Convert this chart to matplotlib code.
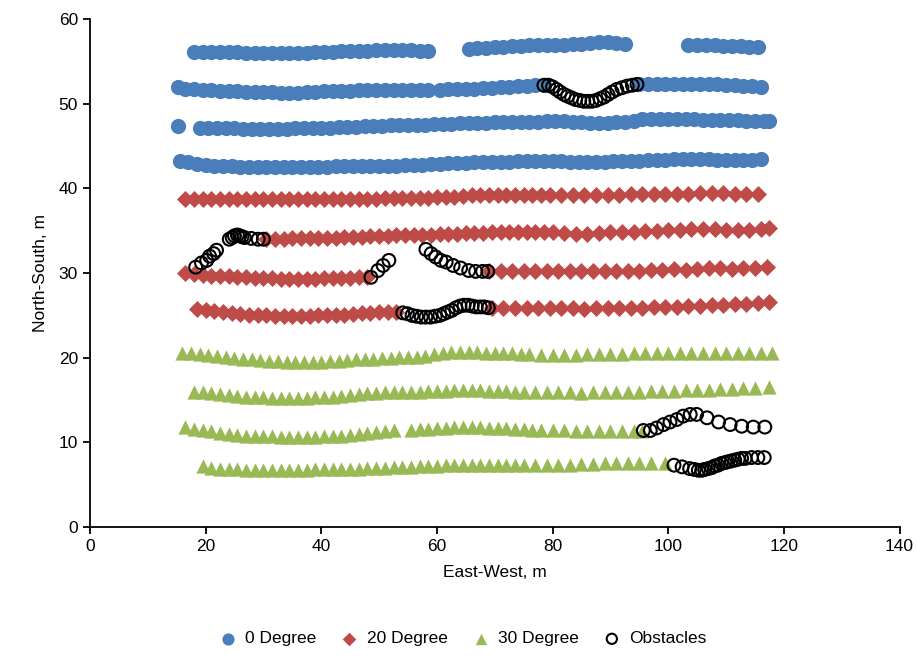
import matplotlib
matplotlib.use("Agg")
import matplotlib.pyplot as plt

plt.rcParams['font.family'] = ['Liberation Sans Narrow', 'Liberation Sans', 'DejaVu Sans']

# ---- 0 Degree rows (blue) ----
b1_x = [18, 19.5, 21, 22.5, 24, 25.5, 27, 28.5, 30, 31.5,
        33, 34.5, 36, 37.5, 39, 40.5, 42, 43.5, 45, 46.5,
        48, 49.5, 51, 52.5, 54, 55.5, 57, 58.5,
        65.5, 67, 68.5, 70, 71.5, 73, 74.5, 76, 77.5, 79,
        80.5, 82, 83.5, 85, 86.5, 88, 89.5, 91, 92.5,
        103.5, 105, 106.5, 108, 109.5, 111, 112.5, 114, 115.5]
b1_y = [56.1, 56.1, 56.1, 56.1, 56.1, 56.1, 56.0, 56.0, 56.0, 56.0,
        56.0, 56.0, 56.0, 56.0, 56.1, 56.1, 56.1, 56.2, 56.2, 56.3,
        56.3, 56.4, 56.4, 56.4, 56.4, 56.4, 56.3, 56.3,
        56.5, 56.6, 56.6, 56.7, 56.7, 56.8, 56.8, 56.9, 56.9, 56.9,
        57.0, 57.0, 57.1, 57.1, 57.2, 57.3, 57.3, 57.2, 57.1,
        56.9, 56.9, 56.9, 56.9, 56.8, 56.8, 56.8, 56.7, 56.7]

b2_x = [15.2, 16.5, 18, 19.5, 21, 22.5, 24, 25.5, 27, 28.5,
        30, 31.5, 33, 34.5, 36, 37.5, 39, 40.5, 42, 43.5,
        45, 46.5, 48, 49.5, 51, 52.5, 54, 55.5, 57, 58.5,
        60.5, 62, 63.5, 65, 66.5, 68, 69.5, 71, 72.5, 74,
        75.5, 77, 78.5,
        95, 96.5, 98, 99.5, 101, 102.5, 104, 105.5, 107, 108.5,
        110, 111.5, 113, 114.5, 116]
b2_y = [52.0, 51.8, 51.7, 51.6, 51.6, 51.5, 51.5, 51.5, 51.4, 51.4,
        51.4, 51.4, 51.3, 51.3, 51.3, 51.4, 51.4, 51.5, 51.5, 51.5,
        51.5, 51.6, 51.6, 51.6, 51.6, 51.6, 51.6, 51.6, 51.6, 51.6,
        51.6, 51.7, 51.7, 51.8, 51.8, 51.9, 51.9, 52.0, 52.0, 52.1,
        52.1, 52.2, 52.2,
        52.4, 52.4, 52.4, 52.4, 52.4, 52.4, 52.3, 52.3, 52.3, 52.3,
        52.2, 52.2, 52.1, 52.1, 52.0]

b3_x = [15.2,
        19, 20.5, 22, 23.5, 25, 26.5, 28, 29.5, 31, 32.5,
        34, 35.5, 37, 38.5, 40, 41.5, 43, 44.5, 46, 47.5,
        49, 50.5, 52, 53.5, 55, 56.5, 58, 59.5, 61, 62.5,
        64, 65.5, 67, 68.5, 70, 71.5, 73, 74.5, 76, 77.5,
        79, 80.5, 82, 83.5, 85, 86.5, 88, 89.5, 91, 92.5,
        94,
        95.5, 97, 98.5, 100, 101.5, 103, 104.5, 106, 107.5, 109,
        110.5, 112, 113.5, 115, 116.5, 117.5]
b3_y = [47.4,
        47.2, 47.2, 47.1, 47.1, 47.1, 47.0, 47.0, 47.0, 47.0, 47.0,
        47.0, 47.1, 47.1, 47.1, 47.2, 47.2, 47.3, 47.3, 47.3, 47.4,
        47.4, 47.4, 47.5, 47.5, 47.5, 47.5, 47.5, 47.6, 47.6, 47.6,
        47.7, 47.7, 47.7, 47.7, 47.8, 47.8, 47.8, 47.9, 47.9, 47.9,
        48.0, 48.0, 48.0, 47.9, 47.8, 47.7, 47.7, 47.7, 47.8, 47.9,
        48.0,
        48.2, 48.2, 48.2, 48.2, 48.2, 48.2, 48.2, 48.1, 48.1, 48.1,
        48.1, 48.1, 48.0, 48.0, 48.0, 48.0]

b4_x = [15.5, 17, 18.5, 20, 21.5, 23, 24.5, 26, 27.5, 29,
        30.5, 32, 33.5, 35, 36.5, 38, 39.5, 41, 42.5, 44,
        45.5, 47, 48.5, 50, 51.5, 53, 54.5, 56, 57.5, 59,
        60.5, 62, 63.5, 65, 66.5, 68, 69.5, 71, 72.5, 74,
        75.5, 77, 78.5, 80, 81.5, 83, 84.5, 86, 87.5, 89,
        90.5, 92, 93.5, 95, 96.5, 98, 99.5, 101, 102.5, 104,
        105.5, 107, 108.5, 110, 111.5, 113, 114.5, 116]
b4_y = [43.3, 43.1, 42.9, 42.8, 42.7, 42.6, 42.6, 42.5, 42.5, 42.5,
        42.5, 42.5, 42.5, 42.5, 42.5, 42.5, 42.5, 42.5, 42.6, 42.6,
        42.6, 42.6, 42.7, 42.7, 42.7, 42.7, 42.8, 42.8, 42.8, 42.9,
        42.9, 43.0, 43.0, 43.0, 43.1, 43.1, 43.1, 43.1, 43.1, 43.2,
        43.2, 43.2, 43.2, 43.2, 43.2, 43.1, 43.1, 43.1, 43.1, 43.1,
        43.2, 43.3, 43.3, 43.3, 43.4, 43.4, 43.4, 43.5, 43.5, 43.5,
        43.5, 43.5, 43.4, 43.4, 43.4, 43.4, 43.4, 43.5]

# ---- 20 Degree rows (red) ----
r1_x = [16.5, 18, 19.5, 21, 22.5, 24, 25.5, 27, 28.5, 30,
        31.5, 33, 34.5, 36, 37.5, 39, 40.5, 42, 43.5, 45,
        46.5, 48, 49.5, 51, 52.5, 54, 55.5, 57, 58.5, 60,
        61.5, 63, 64.5, 66, 67.5, 69, 70.5, 72, 73.5, 75,
        76.5, 78, 79.5, 81.5, 83.5, 85.5, 87.5, 89.5, 91.5, 93.5,
        95.5, 97.5, 99.5, 101.5, 103.5, 105.5, 107.5, 109.5, 111.5, 113.5,
        115.5]
r1_y = [38.8, 38.8, 38.8, 38.7, 38.7, 38.7, 38.7, 38.7, 38.7, 38.7,
        38.7, 38.7, 38.7, 38.7, 38.7, 38.7, 38.7, 38.8, 38.8, 38.8,
        38.8, 38.8, 38.8, 38.9, 38.9, 38.9, 38.9, 38.9, 38.9, 39.0,
        39.0, 39.0, 39.1, 39.2, 39.2, 39.2, 39.2, 39.2, 39.2, 39.2,
        39.2, 39.2, 39.2, 39.2, 39.2, 39.2, 39.2, 39.2, 39.2, 39.3,
        39.3, 39.3, 39.4, 39.4, 39.4, 39.5, 39.5, 39.5, 39.4, 39.4,
        39.3]

r2_x = [30.5, 32, 33.5, 35, 36.5, 38, 39.5, 41, 42.5, 44,
        45.5, 47, 48.5, 50, 51.5, 53, 54.5, 56, 57.5, 59,
        60.5, 62, 63.5, 65, 66.5, 68, 69.5, 71, 72.5, 74,
        75.5, 77, 78.5, 80, 82, 84, 86, 88, 90, 92,
        94, 96, 98, 100, 102, 104, 106, 108, 110, 112,
        114, 116, 117.5]
r2_y = [34.0, 34.0, 34.0, 34.1, 34.1, 34.1, 34.2, 34.2, 34.2, 34.3,
        34.3, 34.3, 34.4, 34.4, 34.4, 34.5, 34.5, 34.5, 34.5, 34.5,
        34.6, 34.6, 34.6, 34.7, 34.7, 34.7, 34.8, 34.8, 34.8, 34.8,
        34.8, 34.8, 34.8, 34.8, 34.7, 34.6, 34.6, 34.7, 34.8, 34.9,
        34.9, 35.0, 35.0, 35.1, 35.1, 35.2, 35.2, 35.2, 35.1, 35.1,
        35.1, 35.2, 35.3]

r3_x = [16.5, 18, 19.5, 21, 22.5, 24, 25.5, 27, 28.5, 30,
        31.5, 33, 34.5, 36, 37.5, 39, 40.5, 42, 43.5, 45,
        46.5, 48,
        69, 71, 73, 75, 77, 79, 81, 83, 85, 87,
        89, 91, 93, 95, 97, 99, 101, 103, 105, 107,
        109, 111, 113, 115, 117]
r3_y = [30.0, 29.9, 29.8, 29.7, 29.6, 29.6, 29.5, 29.5, 29.4, 29.4,
        29.4, 29.3, 29.3, 29.3, 29.3, 29.3, 29.4, 29.4, 29.4, 29.4,
        29.5, 29.5,
        30.2, 30.2, 30.2, 30.2, 30.2, 30.2, 30.2, 30.2, 30.2, 30.3,
        30.3, 30.3, 30.3, 30.3, 30.4, 30.4, 30.5, 30.4, 30.5, 30.6,
        30.6, 30.5, 30.6, 30.6, 30.7]

r4_x = [18.5, 20, 21.5, 23, 24.5, 26, 27.5, 29, 30.5, 32,
        33.5, 35, 36.5, 38, 39.5, 41, 42.5, 44, 45.5, 47,
        48.5, 50, 51.5, 53,
        69.5, 71.5, 73.5, 75.5, 77.5, 79.5, 81.5, 83.5, 85.5, 87.5,
        89.5, 91.5, 93.5, 95.5, 97.5, 99.5, 101.5, 103.5, 105.5, 107.5,
        109.5, 111.5, 113.5, 115.5, 117.5]
r4_y = [25.7, 25.6, 25.5, 25.4, 25.3, 25.2, 25.1, 25.0, 25.0, 24.9,
        24.9, 24.9, 24.9, 24.9, 25.0, 25.0, 25.1, 25.1, 25.2, 25.3,
        25.3, 25.4, 25.4, 25.4,
        25.9, 25.9, 25.9, 25.9, 25.9, 25.9, 25.9, 25.9, 25.8, 25.9,
        25.9, 25.9, 25.9, 25.9, 26.0, 26.0, 26.0, 26.1, 26.1, 26.2,
        26.2, 26.3, 26.4, 26.5, 26.6]

# ---- 30 Degree rows (green) ----
g1_x = [16, 17.5, 19, 20.5, 22, 23.5, 25, 26.5, 28, 29.5,
        31, 32.5, 34, 35.5, 37, 38.5, 40, 41.5, 43, 44.5,
        46, 47.5, 49, 50.5, 52, 53.5, 55, 56.5, 58, 59.5,
        61, 62.5, 64, 65.5, 67, 68.5, 70, 71.5, 73, 74.5,
        76, 78, 80, 82, 84, 86, 88, 90, 92, 94,
        96, 98, 100, 102, 104, 106, 108, 110, 112, 114,
        116, 118]
g1_y = [20.6, 20.5, 20.4, 20.3, 20.2, 20.1, 20.0, 19.9, 19.8, 19.7,
        19.6, 19.6, 19.5, 19.5, 19.5, 19.5, 19.5, 19.6, 19.6, 19.7,
        19.8, 19.8, 19.9, 20.0, 20.0, 20.1, 20.1, 20.1, 20.2, 20.4,
        20.6, 20.7, 20.7, 20.7, 20.7, 20.6, 20.6, 20.5, 20.5, 20.4,
        20.4, 20.3, 20.3, 20.3, 20.3, 20.4, 20.4, 20.4, 20.4, 20.5,
        20.5, 20.5, 20.5, 20.5, 20.5, 20.6, 20.6, 20.6, 20.6, 20.6,
        20.6, 20.6]

g2_x = [18, 19.5, 21, 22.5, 24, 25.5, 27, 28.5, 30, 31.5,
        33, 34.5, 36, 37.5, 39, 40.5, 42, 43.5, 45, 46.5,
        48, 49.5, 51, 52.5, 54, 55.5, 57, 58.5, 60, 61.5,
        63, 64.5, 66, 67.5, 69, 70.5, 72, 73.5, 75, 77,
        79, 81, 83, 85, 87, 89, 91, 93, 95, 97,
        99, 101, 103, 105, 107, 109, 111, 113, 115, 117.5]
g2_y = [16.0, 15.9, 15.8, 15.7, 15.6, 15.5, 15.4, 15.3, 15.3, 15.2,
        15.2, 15.2, 15.2, 15.2, 15.3, 15.3, 15.4, 15.5, 15.6, 15.7,
        15.8, 15.8, 15.9, 15.9, 16.0, 16.0, 16.0, 16.1, 16.1, 16.1,
        16.2, 16.2, 16.2, 16.2, 16.1, 16.1, 16.1, 16.0, 16.0, 16.0,
        15.9, 15.9, 15.9, 15.8, 15.9, 15.9, 16.0, 16.0, 16.0, 16.1,
        16.1, 16.1, 16.2, 16.2, 16.2, 16.3, 16.3, 16.4, 16.4, 16.5]

g3_x = [16.5, 18, 19.5, 21, 22.5, 24, 25.5, 27, 28.5, 30,
        31.5, 33, 34.5, 36, 37.5, 39, 40.5, 42, 43.5, 45,
        46.5, 48, 49.5, 51, 52.5,
        55.5, 57, 58.5, 60, 61.5, 63, 64.5, 66, 67.5, 69,
        70.5, 72, 73.5, 75, 76.5, 78, 80, 82, 84, 86,
        88, 90, 92, 94, 95.5]
g3_y = [11.8, 11.6, 11.4, 11.3, 11.1, 11.0, 10.9, 10.8, 10.8, 10.7,
        10.7, 10.6, 10.6, 10.6, 10.6, 10.6, 10.7, 10.7, 10.8, 10.9,
        11.0, 11.1, 11.2, 11.3, 11.4,
        11.5, 11.6, 11.6, 11.7, 11.7, 11.8, 11.8, 11.8, 11.8, 11.7,
        11.7, 11.7, 11.6, 11.6, 11.5, 11.5, 11.4, 11.4, 11.3, 11.3,
        11.3, 11.3, 11.3, 11.3, 11.3]

g4_x = [19.5, 21, 22.5, 24, 25.5, 27, 28.5, 30, 31.5, 33,
        34.5, 36, 37.5, 39, 40.5, 42, 43.5, 45, 46.5, 48,
        49.5, 51, 52.5, 54, 55.5, 57, 58.5, 60, 61.5, 63,
        64.5, 66, 67.5, 69, 70.5, 72, 73.5, 75, 77, 79,
        81, 83, 85, 87, 89, 91, 93, 95, 97, 99.5]
g4_y = [7.2, 7.0, 6.9, 6.8, 6.8, 6.7, 6.7, 6.7, 6.7, 6.7,
        6.7, 6.7, 6.7, 6.8, 6.8, 6.8, 6.9, 6.9, 6.9, 7.0,
        7.0, 7.0, 7.1, 7.1, 7.1, 7.2, 7.2, 7.2, 7.3, 7.3,
        7.3, 7.3, 7.3, 7.3, 7.3, 7.3, 7.3, 7.3, 7.3, 7.3,
        7.3, 7.3, 7.4, 7.4, 7.5, 7.5, 7.6, 7.6, 7.5, 7.5]

# ---- Obstacles ----
obs_x = [78.5, 79.3, 80, 80.7, 81.3, 82, 82.6, 83.3, 84, 84.7,
         85.4, 86.1, 86.8, 87.5, 88.2, 88.9, 89.6, 90.3, 91.1, 92,
         92.9, 93.8, 94.6,
         18.3, 19.3, 20.2, 20.7, 21.4, 21.9,
         24.1, 24.6, 25.0, 25.5, 25.9, 26.3, 26.7, 27.9, 29.1, 30.0,
         48.6, 49.8, 50.7, 51.7,
         58.1, 59.0, 59.8, 60.7, 61.6, 62.8, 64.1, 65.5, 66.7, 67.9, 68.8,
         54.1, 54.9, 55.7, 56.5, 57.3, 58.1, 58.9, 59.7, 60.5, 61.2,
         61.9, 62.6, 63.3, 64.0, 64.7, 65.4, 66.1, 66.8, 67.5, 68.2, 68.9,
         95.7, 96.9, 98.0, 99.2, 100.3, 101.5, 102.6, 103.8, 104.9,
         106.7, 108.7, 110.7, 112.7, 114.7, 116.7,
         101.0, 102.4, 103.7, 104.5, 105.2, 105.8, 106.3, 106.9, 107.5,
         108.0, 108.6, 109.2, 109.8, 110.3, 110.9, 111.5, 112.1, 112.7,
         113.3, 114.4, 115.5, 116.6]
obs_y = [52.2, 52.2, 52.0, 51.7, 51.4, 51.1, 50.9, 50.7, 50.5, 50.4,
         50.3, 50.3, 50.3, 50.4, 50.6, 50.8, 51.1, 51.4, 51.7, 51.9,
         52.1, 52.2, 52.3,
         30.7, 31.2, 31.5, 32.0, 32.3, 32.7,
         34.0, 34.2, 34.4, 34.5, 34.4, 34.3, 34.2, 34.1, 34.0, 34.0,
         29.5, 30.3, 30.9, 31.5,
         32.8, 32.3, 31.9, 31.5, 31.3, 30.9, 30.6, 30.3, 30.2, 30.2, 30.2,
         25.3, 25.2, 25.0, 24.9, 24.8, 24.8, 24.8, 24.9, 25.0, 25.2,
         25.4, 25.6, 25.9, 26.1, 26.2, 26.2, 26.1, 26.0, 26.0, 26.0, 25.9,
         11.4, 11.4, 11.7, 12.1, 12.4, 12.7, 13.1, 13.3, 13.3,
         12.9, 12.4, 12.1, 11.9, 11.8, 11.8,
         7.3, 7.1, 6.9, 6.8, 6.7, 6.7, 6.8, 6.9, 7.0,
         7.2, 7.3, 7.5, 7.6, 7.7, 7.8, 7.9, 8.0, 8.1,
         8.1, 8.2, 8.2, 8.2]

blue_x = b1_x + b2_x + b3_x + b4_x
blue_y = b1_y + b2_y + b3_y + b4_y
red_x = r1_x + r2_x + r3_x + r4_x
red_y = r1_y + r2_y + r3_y + r4_y
green_x = g1_x + g2_x + g3_x + g4_x
green_y = g1_y + g2_y + g3_y + g4_y

fig = plt.figure(figsize=(9.17, 6.62), dpi=100)
ax = fig.add_axes([0.098, 0.204, 0.883, 0.767])

ax.scatter(blue_x, blue_y, s=120, marker='o', color='#4A7EBB', linewidths=0, label='0 Degree')
ax.scatter(red_x, red_y, s=75, marker='D', color='#BE4B48', linewidths=0, label='20 Degree')
ax.scatter(green_x, green_y, s=105, marker='^', color='#98B954', linewidths=0, label='30 Degree')
ax.scatter(obs_x, obs_y, s=85, marker='o', facecolors='none', edgecolors='black',
           linewidths=1.5, label='Obstacles')

ax.set_xlim(0, 140)
ax.set_ylim(0, 60)
ax.set_xticks(range(0, 141, 20))
ax.set_yticks(range(0, 61, 10))
for s in ['top', 'right']:
    ax.spines[s].set_visible(False)
for s in ['left', 'bottom']:
    ax.spines[s].set_linewidth(1.3)
ax.tick_params(direction='out', length=5, width=1.3, labelsize=12.5)
ax.set_xlabel('East-West, m', fontsize=12.5, labelpad=8)
ax.set_ylabel('North-South, m', fontsize=12.5, labelpad=8)

leg = fig.legend(loc='lower center', bbox_to_anchor=(0.5, 0.0), ncol=4, frameon=False,
                 fontsize=12.5, handletextpad=0.0, columnspacing=0.9, markerscale=0.8)

fig.savefig('out.png', dpi=100)
